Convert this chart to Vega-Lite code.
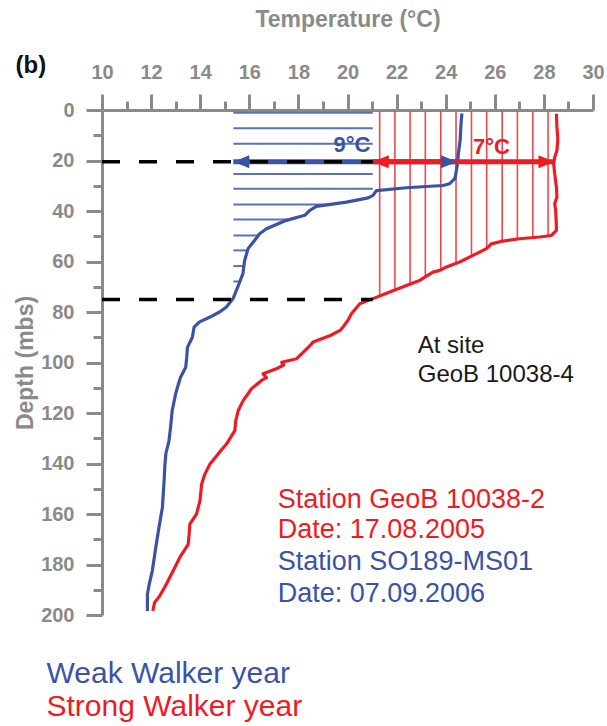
{
  "$schema": "https://vega.github.io/schema/vega-lite/v6.json",
  "width": 491,
  "height": 505,
  "autosize": {"type": "none"},
  "padding": {"left": 102, "top": 110, "right": 14, "bottom": 111},
  "background": "white",
  "config": {"view": {"stroke": null}, "font": "Liberation Sans"},
  "datasets": {
    "bhatch": [
      {"d": 1.1, "t": 15.35, "t2": 21.03},
      {"d": 7.2, "t": 15.35, "t2": 21.03},
      {"d": 13.4, "t": 15.35, "t2": 21.03},
      {"d": 25.3, "t": 15.35, "t2": 21.03},
      {"d": 31.2, "t": 15.35, "t2": 21.03},
      {"d": 37.4, "t": 15.35, "t2": 19.3},
      {"d": 43.4, "t": 15.35, "t2": 17.6},
      {"d": 49.7, "t": 15.35, "t2": 16.37},
      {"d": 55.6, "t": 15.35, "t2": 15.93},
      {"d": 61.8, "t": 15.35, "t2": 15.78},
      {"d": 67.9, "t": 15.35, "t2": 15.62}
    ],
    "rhatch": [
      {"t": 21.31, "d": 0.4, "d2": 73.2},
      {"t": 21.93, "d": 0.4, "d2": 71.6},
      {"t": 22.55, "d": 0.4, "d2": 68.8},
      {"t": 23.17, "d": 0.4, "d2": 65.8},
      {"t": 23.80, "d": 0.4, "d2": 63.4},
      {"t": 24.42, "d": 0.4, "d2": 60.7},
      {"t": 25.05, "d": 0.4, "d2": 57.7},
      {"t": 25.67, "d": 0.4, "d2": 54.5},
      {"t": 26.30, "d": 0.4, "d2": 52.1},
      {"t": 26.92, "d": 0.4, "d2": 51.2},
      {"t": 27.55, "d": 0.4, "d2": 50.5},
      {"t": 28.17, "d": 0.4, "d2": 49.8}
    ],
    "dashed": [
      {"d": 20.5, "t": 10, "t2": 21.03},
      {"d": 75, "t": 10, "t2": 21.03}
    ],
    "arrows": [
      {"s": "b", "d": 20.5, "t": 15.35, "t2": 24.46},
      {"s": "r", "d": 20.5, "t": 21.03, "t2": 28.43}
    ],
    "heads": [
      {"s": "b", "dir": "left", "t": 15.35, "d": 20.5},
      {"s": "b", "dir": "right", "t": 24.46, "d": 20.5},
      {"s": "r", "dir": "left", "t": 21.03, "d": 20.5},
      {"s": "r", "dir": "right", "t": 28.43, "d": 20.5}
    ],
    "curves": [
      {"s": "b", "t": 24.66, "d": 1.3}, {"s": "b", "t": 24.62, "d": 6}, {"s": "b", "t": 24.59, "d": 11.9},
      {"s": "b", "t": 24.52, "d": 17}, {"s": "b", "t": 24.48, "d": 21.2}, {"s": "b", "t": 24.42, "d": 25},
      {"s": "b", "t": 24.37, "d": 27.2}, {"s": "b", "t": 24.16, "d": 29.2}, {"s": "b", "t": 23.89, "d": 29.9},
      {"s": "b", "t": 22.4, "d": 30.8}, {"s": "b", "t": 21.18, "d": 31.9}, {"s": "b", "t": 21.04, "d": 33.8},
      {"s": "b", "t": 20.84, "d": 34.8}, {"s": "b", "t": 19.96, "d": 36.5}, {"s": "b", "t": 18.73, "d": 38.2},
      {"s": "b", "t": 18.46, "d": 39.8}, {"s": "b", "t": 18.26, "d": 41.7}, {"s": "b", "t": 17.51, "d": 43.7},
      {"s": "b", "t": 16.7, "d": 47}, {"s": "b", "t": 16.42, "d": 49}, {"s": "b", "t": 16.22, "d": 51.6},
      {"s": "b", "t": 15.95, "d": 54.9}, {"s": "b", "t": 15.81, "d": 59.6}, {"s": "b", "t": 15.74, "d": 64.8},
      {"s": "b", "t": 15.61, "d": 68.1}, {"s": "b", "t": 15.34, "d": 74.7}, {"s": "b", "t": 15.07, "d": 78},
      {"s": "b", "t": 14.79, "d": 80}, {"s": "b", "t": 14.4, "d": 82}, {"s": "b", "t": 13.96, "d": 84},
      {"s": "b", "t": 13.75, "d": 86}, {"s": "b", "t": 13.68, "d": 90}, {"s": "b", "t": 13.48, "d": 94},
      {"s": "b", "t": 13.45, "d": 98}, {"s": "b", "t": 13.41, "d": 101.9}, {"s": "b", "t": 13.2, "d": 105.8},
      {"s": "b", "t": 13.1, "d": 109}, {"s": "b", "t": 13.0, "d": 112.4}, {"s": "b", "t": 12.86, "d": 119},
      {"s": "b", "t": 12.8, "d": 125}, {"s": "b", "t": 12.73, "d": 130.9}, {"s": "b", "t": 12.6, "d": 136.2},
      {"s": "b", "t": 12.56, "d": 141}, {"s": "b", "t": 12.53, "d": 146.8}, {"s": "b", "t": 12.46, "d": 157.4},
      {"s": "b", "t": 12.32, "d": 165.3}, {"s": "b", "t": 12.19, "d": 173.3}, {"s": "b", "t": 12.05, "d": 182.5},
      {"s": "b", "t": 11.92, "d": 188}, {"s": "b", "t": 11.85, "d": 191.8}, {"s": "b", "t": 11.85, "d": 198.4},
      {"s": "r", "t": 28.51, "d": 1.5}, {"s": "r", "t": 28.53, "d": 6.8}, {"s": "r", "t": 28.57, "d": 11.4},
      {"s": "r", "t": 28.53, "d": 16}, {"s": "r", "t": 28.44, "d": 18.7}, {"s": "r", "t": 28.4, "d": 21.3},
      {"s": "r", "t": 28.44, "d": 25.2}, {"s": "r", "t": 28.51, "d": 30.5}, {"s": "r", "t": 28.53, "d": 34.5},
      {"s": "r", "t": 28.44, "d": 37.1}, {"s": "r", "t": 28.48, "d": 39.8}, {"s": "r", "t": 28.5, "d": 44},
      {"s": "r", "t": 28.51, "d": 47.7}, {"s": "r", "t": 28.3, "d": 49.7}, {"s": "r", "t": 27.83, "d": 50.3},
      {"s": "r", "t": 27.01, "d": 51}, {"s": "r", "t": 26.33, "d": 51.9}, {"s": "r", "t": 25.86, "d": 53},
      {"s": "r", "t": 25.66, "d": 54.9}, {"s": "r", "t": 25.11, "d": 57.6}, {"s": "r", "t": 24.57, "d": 60.2},
      {"s": "r", "t": 24.03, "d": 62.2}, {"s": "r", "t": 23.76, "d": 63.5}, {"s": "r", "t": 23.48, "d": 64.2},
      {"s": "r", "t": 22.94, "d": 67.5}, {"s": "r", "t": 22.4, "d": 69.5}, {"s": "r", "t": 21.72, "d": 72.1},
      {"s": "r", "t": 21.04, "d": 74.7}, {"s": "r", "t": 20.5, "d": 76.7}, {"s": "r", "t": 20.16, "d": 80.7},
      {"s": "r", "t": 20.02, "d": 83.3}, {"s": "r", "t": 19.85, "d": 85.5}, {"s": "r", "t": 19.7, "d": 87.3},
      {"s": "r", "t": 19.3, "d": 89.3}, {"s": "r", "t": 18.6, "d": 91.9}, {"s": "r", "t": 18.45, "d": 93.5},
      {"s": "r", "t": 18.2, "d": 95.9}, {"s": "r", "t": 17.93, "d": 98.5}, {"s": "r", "t": 17.32, "d": 99.9},
      {"s": "r", "t": 17.4, "d": 101}, {"s": "r", "t": 17.1, "d": 102.5}, {"s": "r", "t": 16.56, "d": 104.5},
      {"s": "r", "t": 16.7, "d": 106}, {"s": "r", "t": 16.5, "d": 107.1}, {"s": "r", "t": 16.09, "d": 110.4},
      {"s": "r", "t": 15.75, "d": 115.1}, {"s": "r", "t": 15.55, "d": 119}, {"s": "r", "t": 15.45, "d": 123},
      {"s": "r", "t": 15.41, "d": 127}, {"s": "r", "t": 15.07, "d": 132.3}, {"s": "r", "t": 14.73, "d": 136.2},
      {"s": "r", "t": 14.4, "d": 140.2}, {"s": "r", "t": 14.19, "d": 144.2}, {"s": "r", "t": 14.06, "d": 148.1},
      {"s": "r", "t": 13.99, "d": 154.8}, {"s": "r", "t": 13.85, "d": 160}, {"s": "r", "t": 13.58, "d": 164},
      {"s": "r", "t": 13.55, "d": 168}, {"s": "r", "t": 13.51, "d": 172}, {"s": "r", "t": 13.17, "d": 177.2},
      {"s": "r", "t": 12.9, "d": 182.5}, {"s": "r", "t": 12.62, "d": 187.8}, {"s": "r", "t": 12.35, "d": 192.5},
      {"s": "r", "t": 12.14, "d": 195.1}, {"s": "r", "t": 12.07, "d": 198.4}
    ],
    "texts": [
      {"g": "panel", "text": "(b)", "t": 7.1, "d": -17.6},
      {"g": "nine", "text": "9°C", "t": 20.93, "d": 16.7},
      {"g": "seven", "text": "7°C", "t": 25.11, "d": 17.3},
      {"g": "site", "text": "At site", "t": 22.86, "d": 96.4},
      {"g": "site", "text": "GeoB 10038-4", "t": 22.86, "d": 107.7},
      {"g": "stred", "text": "Station GeoB 10038-2", "t": 17.16, "d": 157.7},
      {"g": "stred", "text": "Date: 17.08.2005", "t": 17.16, "d": 169.6},
      {"g": "stblue", "text": "Station SO189-MS01", "t": 17.16, "d": 182.2},
      {"g": "stblue", "text": "Date: 07.09.2006", "t": 17.16, "d": 194.9},
      {"g": "weak", "text": "Weak Walker year", "t": 7.74, "d": 227.1},
      {"g": "strong", "text": "Strong Walker year", "t": 7.74, "d": 240}
    ]
  },
  "encoding": {
    "x": {
      "field": "t", "type": "quantitative",
      "scale": {"domain": [10, 30], "nice": false, "zero": false},
      "axis": {
        "orient": "top",
        "title": "Temperature (°C)",
        "values": [10, 11, 12, 13, 14, 15, 16, 17, 18, 19, 20, 21, 22, 23, 24, 25, 26, 27, 28, 29, 30],
        "labelExpr": "datum.value % 2 === 0 ? datum.label : ''",
        "tickSize": {"condition": {"test": "datum.value % 2 === 0", "value": 16}, "value": 9},
        "tickWidth": 3, "tickColor": "#8a8a8a",
        "domainColor": "#8a8a8a", "domainWidth": 3,
        "labelFont": "Liberation Sans", "labelFontSize": 20, "labelFontWeight": "bold", "labelColor": "#8a8a8a",
        "labelPadding": 12, "labelFlush": false, "labelOverlap": false,
        "titleFont": "Liberation Sans", "titleFontSize": 23, "titleFontWeight": "bold", "titleColor": "#8a8a8a",
        "titlePadding": 31, "grid": false
      }
    },
    "y": {
      "field": "d", "type": "quantitative",
      "scale": {"domain": [0, 200], "reverse": true, "nice": false, "zero": false},
      "axis": {
        "title": "Depth (mbs)",
        "values": [0, 10, 20, 30, 40, 50, 60, 70, 80, 90, 100, 110, 120, 130, 140, 150, 160, 170, 180, 190, 200],
        "labelExpr": "datum.value % 20 === 0 ? datum.label : ''",
        "tickSize": {"condition": {"test": "datum.value % 20 === 0", "value": 16}, "value": 9},
        "tickWidth": 3, "tickColor": "#8a8a8a",
        "domainColor": "#8a8a8a", "domainWidth": 3,
        "labelFont": "Liberation Sans", "labelFontSize": 20, "labelFontWeight": "bold", "labelColor": "#8a8a8a",
        "labelPadding": 12, "labelFlush": false, "labelOverlap": false,
        "titleFont": "Liberation Sans", "titleFontSize": 23, "titleFontWeight": "bold", "titleColor": "#8a8a8a",
        "titlePadding": 3, "grid": false
      }
    }
  },
  "layer": [
    {
      "data": {"name": "bhatch"},
      "mark": {"type": "rule", "color": "#5a72b9", "strokeWidth": 2},
      "encoding": {"x2": {"field": "t2"}}
    },
    {
      "data": {"name": "rhatch"},
      "mark": {"type": "rule", "color": "#f0474b", "strokeWidth": 1.6},
      "encoding": {"y2": {"field": "d2"}}
    },
    {
      "data": {"name": "curves"},
      "mark": {"type": "line", "strokeWidth": 3.2, "strokeJoin": "round"},
      "encoding": {
        "order": {"field": "d", "type": "quantitative"},
        "detail": {"field": "s"},
        "color": {"field": "s", "type": "nominal", "scale": {"domain": ["b", "r"], "range": ["#3a53a4", "#ed1c24"]}, "legend": null}
      }
    },
    {
      "data": {"name": "arrows"},
      "mark": {"type": "rule", "strokeWidth": 5},
      "encoding": {
        "x2": {"field": "t2"},
        "color": {"field": "s", "type": "nominal", "legend": null}
      }
    },
    {
      "data": {"name": "dashed"},
      "mark": {"type": "rule", "color": "#000000", "strokeWidth": 3.5, "strokeDash": [18, 19]},
      "encoding": {"x2": {"field": "t2"}}
    },
    {
      "data": {"name": "heads"},
      "transform": [{"filter": "datum.dir === 'left'"}],
      "mark": {"type": "point", "shape": "M0,0L2,-0.82L2,0.82Z", "filled": true, "size": 256, "opacity": 1, "strokeWidth": 0},
      "encoding": {"color": {"field": "s", "type": "nominal", "legend": null}}
    },
    {
      "data": {"name": "heads"},
      "transform": [{"filter": "datum.dir === 'right'"}],
      "mark": {"type": "point", "shape": "M0,0L-2,-0.82L-2,0.82Z", "filled": true, "size": 256, "opacity": 1, "strokeWidth": 0},
      "encoding": {"color": {"field": "s", "type": "nominal", "legend": null}}
    },
    {
      "data": {"name": "texts"},
      "transform": [{"filter": "datum.g === 'panel'"}],
      "mark": {"type": "text", "font": "Liberation Sans", "fontSize": 24, "fontWeight": "bold", "color": "#111111", "align": "center", "baseline": "middle"},
      "encoding": {"text": {"field": "text"}}
    },
    {
      "data": {"name": "texts"},
      "transform": [{"filter": "datum.g === 'nine'"}],
      "mark": {"type": "text", "font": "Liberation Sans", "fontSize": 22, "fontWeight": "bold", "color": "#3a53a4", "align": "right", "baseline": "alphabetic"},
      "encoding": {"text": {"field": "text"}}
    },
    {
      "data": {"name": "texts"},
      "transform": [{"filter": "datum.g === 'seven'"}],
      "mark": {"type": "text", "font": "Liberation Sans", "fontSize": 22, "fontWeight": "bold", "color": "#ed1c24", "align": "left", "baseline": "alphabetic"},
      "encoding": {"text": {"field": "text"}}
    },
    {
      "data": {"name": "texts"},
      "transform": [{"filter": "datum.g === 'site'"}],
      "mark": {"type": "text", "font": "Liberation Sans", "fontSize": 24, "color": "#1a1a1a", "align": "left", "baseline": "alphabetic"},
      "encoding": {"text": {"field": "text"}}
    },
    {
      "data": {"name": "texts"},
      "transform": [{"filter": "datum.g === 'stred'"}],
      "mark": {"type": "text", "font": "Liberation Sans", "fontSize": 27, "color": "#ed1c24", "align": "left", "baseline": "alphabetic"},
      "encoding": {"text": {"field": "text"}}
    },
    {
      "data": {"name": "texts"},
      "transform": [{"filter": "datum.g === 'stblue'"}],
      "mark": {"type": "text", "font": "Liberation Sans", "fontSize": 27, "color": "#3a53a4", "align": "left", "baseline": "alphabetic"},
      "encoding": {"text": {"field": "text"}}
    },
    {
      "data": {"name": "texts"},
      "transform": [{"filter": "datum.g === 'weak'"}],
      "mark": {"type": "text", "font": "Liberation Sans", "fontSize": 30, "color": "#3a53a4", "align": "left", "baseline": "alphabetic"},
      "encoding": {"text": {"field": "text"}}
    },
    {
      "data": {"name": "texts"},
      "transform": [{"filter": "datum.g === 'strong'"}],
      "mark": {"type": "text", "font": "Liberation Sans", "fontSize": 30, "color": "#ed1c24", "align": "left", "baseline": "alphabetic"},
      "encoding": {"text": {"field": "text"}}
    }
  ]
}
